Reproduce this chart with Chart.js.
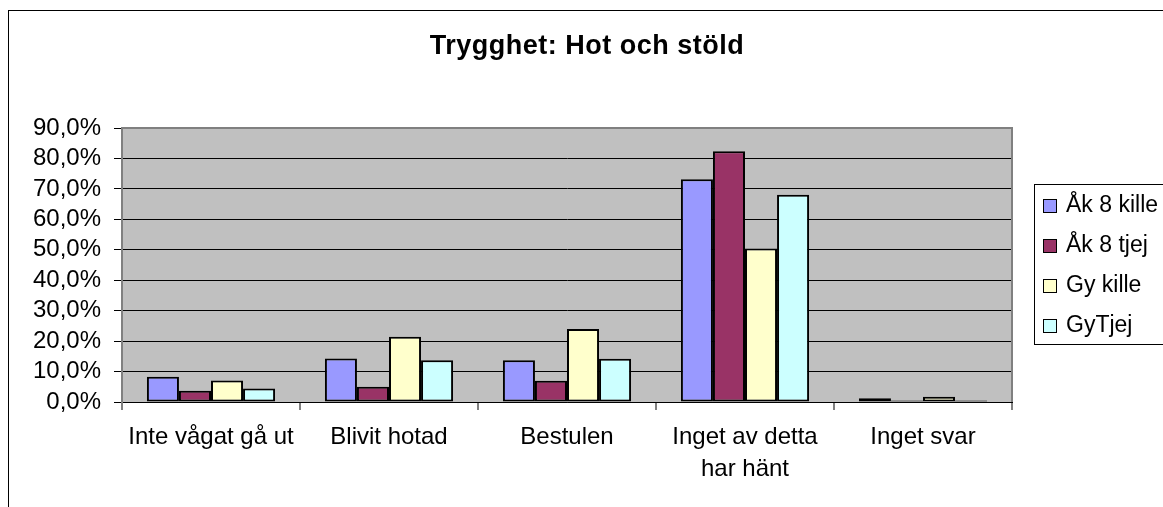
<!DOCTYPE html>
<html>
<head>
<meta charset="utf-8">
<script src="https://cdn.jsdelivr.net/npm/chart.js@4/dist/chart.umd.min.js"></script>
<style>
    body { margin: 0; background: #fff; overflow: hidden; }
    canvas { display: block; }
</style>
</head>
<body>
<canvas id="chart" width="1163" height="507"></canvas>
<script>
const chartTitle = 'Trygghet: Hot och stöld';
const categories = ['Inte vågat gå ut', 'Blivit hotad', 'Bestulen', ['Inget av detta', 'har hänt'], 'Inget svar'];
const seriesNames = ['Åk 8 kille', 'Åk 8 tjej', 'Gy kille', 'GyTjej'];
const ak8Kille = [8.3, 14.3, 13.7, 73.2, 1.2];
const ak8Tjej = [3.7, 5.0, 7.0, 82.4, 0.5];
const gyKille = [7.1, 21.4, 24.0, 50.4, 1.7];
const gyTjej = [4.4, 13.7, 14.2, 68.1, 0.5];
const yTickLabels = ['0,0%', '10,0%', '20,0%', '30,0%', '40,0%', '50,0%', '60,0%', '70,0%', '80,0%', '90,0%'];

const colors = ['#9999FF', '#993366', '#FFFFCC', '#CCFFFF'];
const FONT = "'Liberation Sans', Arial, sans-serif";

const frame = {
    id: 'frame',
    beforeDraw(chart) {
        const ctx = chart.ctx;
        const a = chart.chartArea;
        ctx.save();
        // outer chart border
        ctx.strokeStyle = '#000';
        ctx.lineWidth = 1;
        ctx.strokeRect(8.5, 10.5, 2000, 2000);
        // plot area fill
        ctx.fillStyle = '#C0C0C0';
        ctx.fillRect(a.left, a.top, a.right - a.left, a.bottom - a.top);
        ctx.restore();
    },
    beforeDatasetsDraw(chart) {
        const ctx = chart.ctx;
        const a = chart.chartArea;
        ctx.save();
        ctx.strokeStyle = '#808080';
        ctx.lineWidth = 2;
        ctx.beginPath();
        ctx.moveTo(a.left, a.bottom);
        ctx.lineTo(a.left, a.top);
        ctx.lineTo(a.right, a.top);
        ctx.lineTo(a.right, a.bottom);
        ctx.stroke();
        ctx.restore();
    },
    afterDraw(chart) {
        const ctx = chart.ctx;
        ctx.save();
        // title
        ctx.fillStyle = '#000';
        ctx.font = 'bold 27px ' + FONT;
        if ('letterSpacing' in ctx) ctx.letterSpacing = '0.5px';
        ctx.textAlign = 'center';
        ctx.textBaseline = 'alphabetic';
        ctx.fillText(chartTitle, 587, 54);
        if ('letterSpacing' in ctx) ctx.letterSpacing = '0px';

        // legend
        ctx.strokeStyle = '#000';
        ctx.lineWidth = 1;
        ctx.strokeRect(1034.5, 184.5, 300, 160);
        ctx.font = '23px ' + FONT;
        ctx.textAlign = 'left';
        ctx.textBaseline = 'middle';
        chart.data.datasets.forEach((ds, i) => {
            const y = 205 + i * 40;
            ctx.fillStyle = ds.backgroundColor;
            ctx.fillRect(1043, y - 6, 13, 13);
            ctx.strokeRect(1043.5, y - 5.5, 13, 13);
            ctx.fillStyle = '#000';
            ctx.fillText(ds.label, 1066, y + 1);
        });
        ctx.restore();
    }
};

const values = [ak8Kille, ak8Tjej, gyKille, gyTjej];

new Chart(document.getElementById('chart').getContext('2d'), {
    type: 'bar',
    data: {
        labels: categories,
        datasets: seriesNames.map((name, i) => ({
            label: name,
            data: values[i],
            backgroundColor: colors[i],
            borderColor: '#000',
            borderWidth: 2,
            borderSkipped: false,
            categoryPercentage: 0.72,
            barPercentage: 1.0
        }))
    },
    options: {
        responsive: false,
        animation: false,
        layout: {
            padding: { top: 128, right: 151, left: 0, bottom: 0 }
        },
        scales: {
            x: {
                afterFit: (s) => { s.height = 105; },
                grid: {
                    offset: true,
                    drawOnChartArea: false,
                    color: '#808080',
                    lineWidth: 2,
                    tickLength: 8
                },
                border: { color: '#000', width: 1 },
                ticks: {
                    color: '#000',
                    font: { family: FONT, size: 24, lineHeight: 1.32 },
                    padding: 12,
                    maxRotation: 0,
                    autoSkip: false
                }
            },
            y: {
                min: 0,
                max: 90,
                afterFit: (s) => { s.width = 122; },
                grid: {
                    color: '#000',
                    lineWidth: 1,
                    tickLength: 8
                },
                border: { color: '#808080', width: 2 },
                ticks: {
                    stepSize: 10,
                    autoSkip: false,
                    color: '#000',
                    font: { family: FONT, size: 24 },
                    padding: 13,
                    callback: (value, index) => yTickLabels[index]
                }
            }
        },
        plugins: {
            legend: { display: false },
            title: { display: false },
            tooltip: { enabled: false }
        }
    },
    plugins: [frame]
});
</script>
</body>
</html>
